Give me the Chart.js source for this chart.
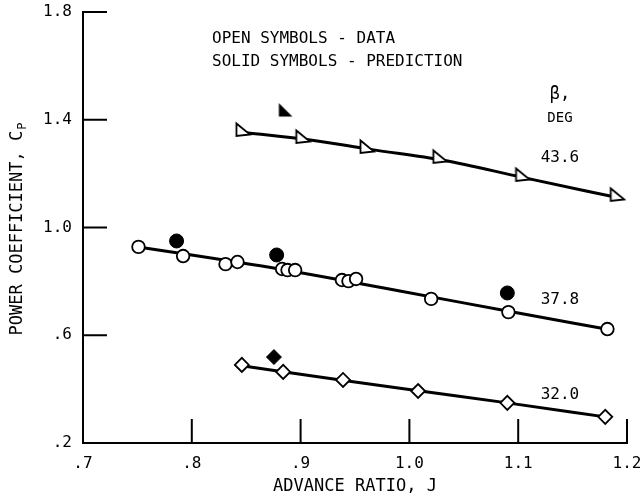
<!DOCTYPE html>
<html>
<head>
<meta charset="utf-8">
<script src="https://cdn.jsdelivr.net/npm/chart.js@4.4.1/dist/chart.umd.min.js"></script>
<style>
  html, body { margin: 0; background: #fff; }
  #wrap { width: 641px; height: 499px; }
</style>
</head>
<body>
<div id="wrap"><canvas id="chart"></canvas></div>
<script>
// tick labels
const xTickLabels = ['.7', '.8', '.9', '1.0', '1.1', '1.2'];
const yTickLabels = ['.2', '.6', '1.0', '1.4', '1.8'];

// beta = 43.6 deg (triangles)
const triJ  = [0.847, 0.902, 0.961, 1.028, 1.104, 1.191];
const triCp = [1.362, 1.336, 1.299, 1.262, 1.195, 1.121];
const triPredJ  = [0.886];
const triPredCp = [1.436];
const triLineJ  = [0.850, 0.909, 0.964, 1.031, 1.104, 1.190];
const triLineCp = [1.352, 1.325, 1.290, 1.250, 1.186, 1.112];

// beta = 37.8 deg (circles)
const cirJ  = [0.751, 0.792, 0.831, 0.842, 0.883, 0.888, 0.895, 0.938, 0.944, 0.951, 1.020, 1.091, 1.182];
const cirCp = [0.928, 0.894, 0.864, 0.872, 0.846, 0.842, 0.842, 0.805, 0.801, 0.809, 0.735, 0.686, 0.623];
const cirPredJ  = [0.786, 0.878, 1.090];
const cirPredCp = [0.950, 0.898, 0.757];
const cirLineJ  = [0.751, 0.870, 0.990, 1.090, 1.182];
const cirLineCp = [0.928, 0.853, 0.765, 0.690, 0.622];

// beta = 32.0 deg (diamonds)
const diaJ  = [0.846, 0.884, 0.939, 1.008, 1.090, 1.180];
const diaCp = [0.490, 0.464, 0.434, 0.393, 0.349, 0.297];
const diaPredJ  = [0.8755];
const diaPredCp = [0.519];
const diaLineJ  = [0.846, 0.940, 1.010, 1.090, 1.180];
const diaLineCp = [0.487, 0.432, 0.393, 0.349, 0.297];

const curveLabels = ['43.6', '37.8', '32.0'];
const noteLines = ['OPEN SYMBOLS - DATA', 'SOLID SYMBOLS - PREDICTION'];

const FONT = "'DejaVu Sans Mono', monospace";

function pts(xs, ys) { return xs.map((v, i) => ({ x: v, y: ys[i] })); }

// little triangle pictures used as point styles
function triImage(filled) {
    const c = document.createElement('canvas');
    c.width = 18; c.height = 18;
    const g = c.getContext('2d');
    g.beginPath();
    if (filled) {
        g.moveTo(2.5, 2); g.lineTo(2.5, 15.5); g.lineTo(16, 15.5);
        g.closePath();
        g.fillStyle = '#000'; g.fill();
    } else {
        g.moveTo(2.5, 2.5); g.lineTo(2.5, 15); g.lineTo(16, 13.5);
        g.closePath();
        g.fillStyle = '#fff'; g.fill();
        g.lineWidth = 1.8; g.strokeStyle = '#000'; g.stroke();
    }
    return c;
}

function lineSet(xs, ys) {
    return {
        data: pts(xs, ys), showLine: true, pointRadius: 0, borderColor: '#000',
        borderWidth: 3, cubicInterpolationMode: 'monotone', order: 2
    };
}

// inward tick marks
const innerTicks = {
    id: 'innerTicks',
    beforeDatasetsDraw(chart) {
        const { ctx, scales: { x, y }, chartArea: a } = chart;
        ctx.save();
        ctx.strokeStyle = '#000';
        ctx.lineWidth = 2;
        ctx.beginPath();
        for (let i = 1; i < xTickLabels.length; i++) {
            const px = x.getPixelForValue(parseFloat(xTickLabels[i]));
            ctx.moveTo(px, a.bottom); ctx.lineTo(px, a.bottom - 24);
        }
        for (let i = 1; i < yTickLabels.length; i++) {
            const py = y.getPixelForValue(parseFloat(yTickLabels[i]));
            ctx.moveTo(a.left, py); ctx.lineTo(a.left + 24, py);
        }
        ctx.stroke();
        ctx.restore();
    }
};

// texts on the plot and the y title with subscript
const notes = {
    id: 'notes',
    afterDraw(chart) {
        const { ctx, scales: { x, y }, chartArea: a } = chart;
        ctx.save();
        ctx.fillStyle = '#000';
        ctx.textBaseline = 'middle';

        ctx.font = '16px ' + FONT;
        ctx.textAlign = 'left';
        ctx.fillText(noteLines[0], x.getPixelForValue(0.8186), y.getPixelForValue(1.700));
        ctx.fillText(noteLines[1], x.getPixelForValue(0.8186), y.getPixelForValue(1.614));

        ctx.textAlign = 'center';
        const lx = x.getPixelForValue(1.1384);
        ctx.font = '17px ' + FONT;
        ctx.fillText('\u03B2,', lx, y.getPixelForValue(1.492));
        ctx.font = '14px ' + FONT;
        ctx.fillText('DEG', lx, y.getPixelForValue(1.406));
        ctx.font = '16px ' + FONT;
        ctx.fillText(curveLabels[0], lx, y.getPixelForValue(1.258));
        ctx.fillText(curveLabels[1], lx, y.getPixelForValue(0.731));
        ctx.fillText(curveLabels[2], lx, y.getPixelForValue(0.378));

        // y axis title
        ctx.translate(18, (a.top + a.bottom) / 2 + 2);
        ctx.rotate(-Math.PI / 2);
        ctx.font = '17px ' + FONT;
        const main = 'POWER COEFFICIENT, C';
        const w = ctx.measureText(main).width;
        ctx.font = '12px ' + FONT;
        const ws = ctx.measureText('P').width;
        const x0 = -(w + ws) / 2;
        ctx.textAlign = 'left';
        ctx.font = '17px ' + FONT;
        ctx.fillText(main, x0, 0);
        ctx.font = '12px ' + FONT;
        ctx.fillText('P', x0 + w + 1, 5);
        ctx.restore();
    }
};

const chart = new Chart(document.getElementById('chart'), {
    type: 'scatter',
    data: {
        datasets: [
            { data: pts(triJ, triCp), pointStyle: triImage(false), order: 0 },
            { data: pts(triPredJ, triPredCp), pointStyle: triImage(true), order: 0 },
            { data: pts(cirJ, cirCp), pointStyle: 'circle', pointRadius: 6.3, borderWidth: 1.8,
              borderColor: '#000', backgroundColor: '#fff', order: 0 },
            { data: pts(cirPredJ, cirPredCp), pointStyle: 'circle', pointRadius: 7, borderWidth: 1,
              borderColor: '#000', backgroundColor: '#000', order: 0 },
            { data: pts(diaJ, diaCp), pointStyle: 'rectRot', pointRadius: 7, borderWidth: 1.8,
              borderColor: '#000', backgroundColor: '#fff', order: 0 },
            { data: pts(diaPredJ, diaPredCp), pointStyle: 'rectRot', pointRadius: 7.5, borderWidth: 1,
              borderColor: '#000', backgroundColor: '#000', order: 0 },
            lineSet(triLineJ, triLineCp),
            lineSet(cirLineJ, cirLineCp),
            lineSet(diaLineJ, diaLineCp)
        ]
    },
    options: {
        responsive: true,
        maintainAspectRatio: false,
        animation: false,
        events: [],
        layout: { padding: { top: 12, right: 14, left: 0, bottom: 0 } },
        plugins: { legend: { display: false }, tooltip: { enabled: false } },
        scales: {
            x: {
                type: 'linear', min: 0.7, max: 1.2,
                afterFit(s) { s.height = 56; s.paddingLeft = 0; s.paddingRight = 0; },
                afterBuildTicks(s) { s.ticks = xTickLabels.map(t => ({ value: parseFloat(t) })); },
                ticks: {
                    color: '#000', padding: 11, maxRotation: 0, autoSkip: false,
                    font: { family: FONT, size: 16 },
                    callback: (v, i) => xTickLabels[i]
                },
                grid: { display: false, drawTicks: false },
                border: { display: true, color: '#000', width: 2 },
                title: {
                    display: true, text: 'ADVANCE RATIO, J', color: '#000',
                    font: { family: FONT, size: 17 }, padding: { top: 0, bottom: 2 }
                }
            },
            y: {
                type: 'linear', min: 0.2, max: 1.8,
                afterFit(s) { s.width = 83; s.paddingTop = 0; s.paddingBottom = 0; },
                afterBuildTicks(s) { s.ticks = yTickLabels.map(t => ({ value: parseFloat(t) })); },
                ticks: {
                    color: '#000', padding: 11, autoSkip: false,
                    font: { family: FONT, size: 16 },
                    callback: (v, i) => yTickLabels[i]
                },
                grid: { display: false, drawTicks: false },
                border: { display: true, color: '#000', width: 2 }
            }
        }
    },
    plugins: [innerTicks, notes]
});
</script>
</body>
</html>
